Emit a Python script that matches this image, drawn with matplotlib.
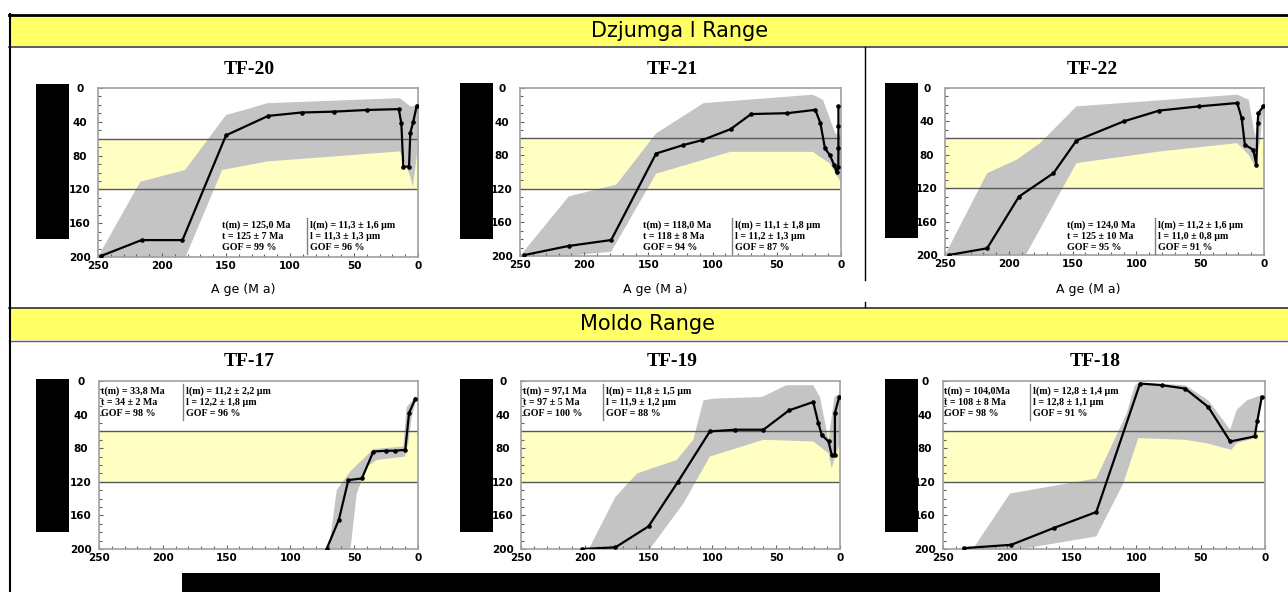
import numpy as np
import matplotlib
matplotlib.use("Agg")
import matplotlib.pyplot as plt
from matplotlib.patches import Rectangle
from matplotlib.lines import Line2D
from matplotlib.ticker import MultipleLocator

W, H = 1288, 592

# === Data: best-fit t-T paths (time Ma, temperature) ===
tf20_t = [248, 216, 184, 150, 117, 91, 66, 40, 15, 13, 11.5, 7, 6, 3.7, 1]
tf20_T = [199, 180, 180, 56, 33, 29, 28, 26, 25, 42, 93, 93, 53, 40, 21]
tf21_t = [247, 212, 179, 144, 123, 108, 86, 70, 42, 20, 16, 12.5, 8.6, 5.3, 3.4, 2.1, 2, 2, 2]
tf21_T = [199, 188, 181, 78, 68, 62, 49, 31, 30, 26, 42, 72, 80, 92, 100, 94, 72, 45, 22]
tf22_t = [247, 217, 192, 165, 147, 110, 82, 51, 21, 17.5, 15, 8.4, 6, 5, 4.4, 0.5]
tf22_T = [200, 192, 130, 102, 63, 40, 27, 22, 18, 36, 68, 74, 92, 42, 30, 22]
tf17_t = [71.6, 62, 54.6, 44, 35, 25, 18, 10, 7, 2]
tf17_T = [200, 165, 118, 116, 84, 83, 83, 82, 38, 21]
tf19_t = [202, 176, 150, 127, 102, 82, 60, 40, 21, 17, 14.4, 9, 6.5, 4, 4, 0.6]
tf19_T = [200, 198, 173, 120, 60, 58, 58, 35, 25, 50, 64, 72, 88, 88, 38, 19]
tf18_t = [234, 197, 164, 131, 97, 80, 62, 44, 27, 8, 6, 2.5]
tf18_T = [199, 195, 175, 156, 3, 5, 9, 31, 72, 66, 48, 19]

# === Data: envelope of good paths (cool side old->young, hot side young->old) ===
tf20_cool_t = [250, 217, 182, 150, 131, 118, 14, 6, 0]
tf20_cool_T = [200, 111, 97, 32, 24, 18, 12, 22, 20]
tf20_hot_t = [0, 1, 4, 6, 14, 66, 118, 153, 183, 250]
tf20_hot_T = [22, 81, 117, 105, 75, 81, 87, 97, 205, 205]

tf21_cool_t = [250, 212, 175, 144, 107, 22, 14, 4.5, 0]
tf21_cool_T = [200, 129, 115, 54, 18, 8, 14, 54, 56]
tf21_hot_t = [0, 8.6, 22, 86, 144, 179, 250]
tf21_hot_T = [113, 90, 76, 76, 102, 195, 205]

tf22_cool_t = [250, 217, 194, 175.5, 147, 21, 12, 7, 4, 0.5]
tf22_cool_T = [200, 102, 86, 66, 22, 8, 14, 58, 35, 18]
tf22_hot_t = [0.5, 3, 7, 12, 21, 81.5, 147, 188.6, 250]
tf22_hot_T = [24, 62, 94, 80, 66, 76, 90, 205, 205]

tf17_cool_t = [70.3, 63.7, 53.3, 35, 11.5, 8.9, 2.4, 0.5]
tf17_cool_T = [205, 130, 108, 81, 78, 31, 20, 18]
tf17_hot_t = [0.5, 1.6, 5, 7.6, 10.2, 32.4, 40.2, 48, 53.3]
tf17_hot_T = [23, 23, 44, 74, 90, 94, 102, 134, 205]

tf19_cool_t = [198.5, 176, 159, 128, 115, 107, 99, 61, 42, 21, 15.7, 9, 4.3, 0]
tf19_cool_T = [205, 138, 110, 94, 70, 23, 21, 19, 5, 5, 19, 70, 19, 15]
tf19_hot_t = [0, 4, 6.5, 9, 21, 60, 102, 122.8, 151.5]
tf19_hot_T = [74, 91, 104, 86, 72, 70, 90, 146, 205]

tf18_cool_t = [229, 198, 131, 107.4, 101, 97, 62, 44, 27, 22, 14, 2.6]
tf18_cool_T = [205, 134, 116, 38.5, 5, 2, 5, 23, 58, 34.5, 23, 16.7]
tf18_hot_t = [2.6, 8, 22, 26, 45.6, 62, 98.4, 110, 131, 185, 229]
tf18_hot_T = [23, 68, 74, 82, 74, 70, 68, 122, 185, 199, 205]

# === Model statistics text ===
tf20_left = ["t(m) = 125,0 Ma", "t = 125 ± 7 Ma", "GOF = 99 %"]
tf20_right = ["l(m) = 11,3 ± 1,6 µm", "l = 11,3 ± 1,3 µm", "GOF = 96 %"]
tf21_left = ["t(m) = 118,0 Ma", "t = 118 ± 8 Ma", "GOF = 94 %"]
tf21_right = ["l(m) = 11,1 ± 1,8 µm", "l = 11,2 ± 1,3 µm", "GOF = 87 %"]
tf22_left = ["t(m) = 124,0 Ma", "t = 125 ± 10 Ma", "GOF = 95 %"]
tf22_right = ["l(m) = 11,2 ± 1,6 µm", "l = 11,0 ± 0,8 µm", "GOF = 91 %"]
tf17_left = ["t(m) = 33,8 Ma", "t = 34 ± 2 Ma", "GOF = 98 %"]
tf17_right = ["l(m) = 11,2 ± 2,2 µm", "l = 12,2 ± 1,8 µm", "GOF = 96 %"]
tf19_left = ["t(m) = 97,1 Ma", "t = 97 ± 5 Ma", "GOF = 100 %"]
tf19_right = ["l(m) = 11,8 ± 1,5 µm", "l = 11,9 ± 1,2 µm", "GOF = 88 %"]
tf18_left = ["t(m) = 104,0Ma", "t = 108 ± 8 Ma", "GOF = 98 %"]
tf18_right = ["l(m) = 12,8 ± 1,4 µm", "l = 12,8 ± 1,1 µm", "GOF = 91 %"]

x_ticks = [250, 200, 150, 100, 50, 0]
y_ticks = [0, 40, 80, 120, 160, 200]
paz_top, paz_bottom = 60, 120

# === Layout (pixels) ===
panels = [
    dict(name="TF-20", path=(tf20_t, tf20_T), cool=(tf20_cool_t, tf20_cool_T), hot=(tf20_hot_t, tf20_hot_T),
         left=tf20_left, right=tf20_right, box=(98, 88, 418, 257), title=(249, 70),
         txt=(222, 307, 310, 225), black=(36, 84, 69, 239), xlabel=(243, 290)),
    dict(name="TF-21", path=(tf21_t, tf21_T), cool=(tf21_cool_t, tf21_cool_T), hot=(tf21_hot_t, tf21_hot_T),
         left=tf21_left, right=tf21_right, box=(520, 88, 841, 256), title=(672, 70),
         txt=(643, 732, 735, 225), black=(460, 83, 493, 239), xlabel=(655, 290)),
    dict(name="TF-22", path=(tf22_t, tf22_T), cool=(tf22_cool_t, tf22_cool_T), hot=(tf22_hot_t, tf22_hot_T),
         left=tf22_left, right=tf22_right, box=(945, 88, 1264, 255), title=(1092, 70),
         txt=(1067, 1155, 1158, 225), black=(885, 83, 918, 238), xlabel=(1088, 290)),
    dict(name="TF-17", path=(tf17_t, tf17_T), cool=(tf17_cool_t, tf17_cool_T), hot=(tf17_hot_t, tf17_hot_T),
         left=tf17_left, right=tf17_right, box=(99, 381, 418, 549), title=(249, 362),
         txt=(101, 183, 186, 391), black=(36, 379, 69, 532), xlabel=None),
    dict(name="TF-19", path=(tf19_t, tf19_T), cool=(tf19_cool_t, tf19_cool_T), hot=(tf19_hot_t, tf19_hot_T),
         left=tf19_left, right=tf19_right, box=(521, 381, 840, 549), title=(672, 362),
         txt=(523, 603, 606, 391), black=(460, 379, 493, 532), xlabel=None),
    dict(name="TF-18", path=(tf18_t, tf18_T), cool=(tf18_cool_t, tf18_cool_T), hot=(tf18_hot_t, tf18_hot_T),
         left=tf18_left, right=tf18_right, box=(943, 381, 1265, 549), title=(1095, 362),
         txt=(944, 1030, 1033, 391), black=(885, 379, 918, 532), xlabel=None),
]


def fx(x):
    return x / W


def fy(y):
    return 1 - y / H


def frect(fig, x0, y0, x1, y1, color, z=5, **kw):
    fig.add_artist(Rectangle((fx(x0), fy(y1)), (x1 - x0) / W, (y1 - y0) / H,
                             transform=fig.transFigure, facecolor=color, edgecolor="none", zorder=z, **kw))


def fline(fig, x0, y0, x1, y1, color="black", lw=1.0, z=6):
    fig.add_artist(Line2D([fx(x0), fx(x1)], [fy(y0), fy(y1)], transform=fig.transFigure,
                          color=color, lw=lw, zorder=z))


fig = plt.figure(figsize=(W / 100, H / 100), dpi=100)
fig.patch.set_facecolor("white")

# === Range header bands ===
frect(fig, 9, 15, W, 46, "#ffff66", z=1)
frect(fig, 9, 308, W, 340, "#ffff66", z=1)
fline(fig, 9, 14.5, W, 14.5, lw=2.0)
fline(fig, 9, 46.5, W, 46.5, color="#404040", lw=1.2)
fline(fig, 9, 307.5, W, 307.5, color="#303030", lw=1.2)
fline(fig, 9, 340.5, W, 340.5, color="#606060", lw=1.0)
fline(fig, 9.5, 14, 9.5, H, lw=1.5)
fline(fig, 865, 47, 865, 280, lw=1.0)
fline(fig, 865, 302, 865, 307, lw=1.0)
fig.text(fx(680), fy(31), "Dzjumga l Range", ha="center", va="center", fontsize=15,
         family="DejaVu Sans", zorder=7)
fig.text(fx(647), fy(324), "Moldo Range", ha="center", va="center", fontsize=15,
         family="DejaVu Sans", zorder=7)

# === Panels ===
for p in panels:
    x0, y0, x1, y1 = p["box"]
    ax = fig.add_axes([fx(x0), fy(y1), (x1 - x0) / W, (y1 - y0) / H])
    ax.set_xlim(250, 0)
    ax.set_ylim(200, 0)
    ax.axhspan(paz_top, paz_bottom, color="#ffffc4", lw=0, zorder=0)
    ct, cT = p["cool"]
    ht, hT = p["hot"]
    ax.fill(np.concatenate([ct, ht]), np.concatenate([cT, hT]), color="#c4c4c4", lw=0, zorder=1)
    ax.axhline(paz_top, color="#585858", lw=1.0, zorder=2)
    ax.axhline(paz_bottom, color="#585858", lw=1.0, zorder=2)
    ax.plot(p["path"][0], p["path"][1], "-o", color="black", lw=1.6, ms=2.3, zorder=3)

    ax.set_xticks(x_ticks)
    ax.set_yticks(y_ticks)
    ax.xaxis.set_minor_locator(MultipleLocator(10))
    ax.yaxis.set_minor_locator(MultipleLocator(10))
    ax.tick_params(which="both", direction="in", color="#606060", width=0.8)
    ax.tick_params(which="major", length=3)
    ax.tick_params(which="minor", length=2)
    ax.tick_params(axis="x", pad=3, labelsize=7.5)
    ax.tick_params(axis="y", pad=13, labelsize=7.5)
    for lbl in ax.get_xticklabels() + ax.get_yticklabels():
        lbl.set_fontweight("bold")
    for lbl in ax.get_yticklabels():
        lbl.set_ha("center")
    for s in ax.spines.values():
        s.set_color("#a0a0a0")
        s.set_linewidth(1.2)

    tx, ty = p["title"]
    fig.text(fx(tx), fy(ty), p["name"], ha="center", va="center", fontsize=14,
             fontweight="bold", family="Liberation Serif")

    lx, sx, rx, ly = p["txt"]
    for i in range(3):
        yy = ly + i * 11.3
        fig.text(fx(lx), fy(yy), p["left"][i], ha="left", va="center", fontsize=7.2,
                 fontweight="bold", family="Liberation Serif", zorder=4)
        fig.text(fx(rx), fy(yy), p["right"][i], ha="left", va="center", fontsize=7.2,
                 fontweight="bold", family="Liberation Serif", zorder=4)
    fline(fig, sx, ly - 7, sx, ly + 29, color="#808080", lw=1.0, z=4)

    if p["xlabel"] is not None:
        xx, yy = p["xlabel"]
        fig.text(fx(xx), fy(yy), "A ge (M a)", ha="center", va="center", fontsize=9,
                 family="DejaVu Sans")

    bx0, by0, bx1, by1 = p["black"]
    frect(fig, bx0, by0, bx1, by1, "black", z=10)

# bottom redaction bar
frect(fig, 182, 573, 1160, H, "black", z=10)

fig.savefig("out.png", dpi=100, facecolor="white")
